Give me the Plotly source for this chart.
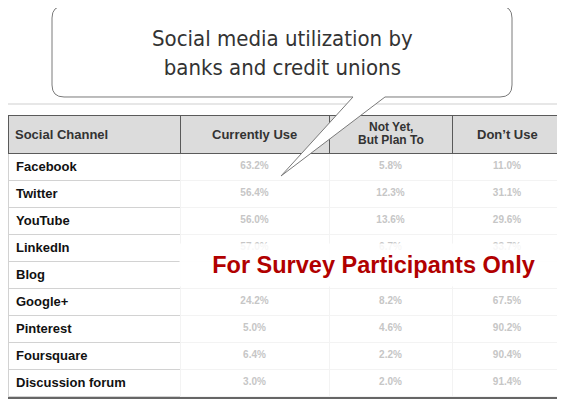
import plotly.graph_objects as go

# table contents (values are blurred in the source, so these are estimates;
# the Blog row is hidden behind the overlay text and left empty)
channels = ["Facebook", "Twitter", "YouTube", "LinkedIn", "Blog", "Google+",
            "Pinterest", "Foursquare", "Discussion forum"]
currently_use = [63.2, 56.4, 56.0, 57.0, None, 24.2, 5.0, 6.4, 3.0]
plan_to = [5.8, 12.3, 13.6, 6.7, None, 8.2, 4.6, 2.2, 2.0]
dont_use = [11.0, 31.1, 29.6, 33.7, None, 67.5, 90.2, 90.4, 91.4]
headers = ["Social Channel", "Currently Use", "Not Yet,", "But Plan To", "Don\u2019t Use"]

W, H = 565, 407
OFF = 8  # the page body adds an 8px margin, so place things relative to the screen
col_widths = [172, 149, 123, 110]


def px(x):
    return (x - OFF) / W


def py(y):
    return 1 - (y - OFF) / H


def pct(vals):
    return ["" if v is None else f"{v:.1f}%" for v in vals]


fig = go.Figure()

# nbsp keeps plotly from treating the labels as wrappable (which grows the rows)
labels = [c.replace(" ", "\u00a0") for c in channels]

fig.add_trace(go.Table(
    domain=dict(x=[0, px(562)], y=[0.0, py(115)]),
    columnwidth=col_widths,
    header=dict(
        values=["", "", "", ""],
        fill_color="#dcdcdc",
        line=dict(color="#5a5a5a", width=1),
        height=38,
    ),
    cells=dict(
        values=[labels, pct(currently_use), pct(plan_to), pct(dont_use)],
        fill_color="white",
        line=dict(color=["#d2d2d2", "#f3f3f3", "#f3f3f3", "#f3f3f3"], width=1),
        align=["left", "center", "center", "center"],
        font=dict(family="Liberation Sans, Arial", size=[13, 10, 10, 10], weight="bold",
                  color=["#111111", "#c6c6c6", "#c6c6c6", "#c6c6c6"]),
        height=27,
    ),
))

# header labels, centred between the column edges
edges = [8]
for w in col_widths:
    edges.append(edges[-1] + w)
hfont = dict(family="Liberation Sans, Arial", size=13, color="#333333", weight="bold")
sfont = dict(family="Liberation Sans, Arial", size=12, color="#333333", weight="bold")
fig.add_annotation(x=px(edges[0] + 5), y=py(134), text=headers[0], font=hfont)
fig.add_annotation(x=px((edges[1] + edges[2]) / 2), y=py(134), text=headers[1], font=hfont)
fig.add_annotation(x=px((edges[2] + edges[3]) / 2), y=py(127), text=headers[2], font=sfont)
fig.add_annotation(x=px((edges[2] + edges[3]) / 2), y=py(140), text=headers[3], font=sfont)
fig.add_annotation(x=px((edges[3] + edges[4]) / 2), y=py(134), text=headers[4], font=hfont)

# outer frame of the table
frame = dict(type="line", xref="paper", yref="paper")
fig.add_shape(frame, x0=0, x1=1, y0=py(104), y1=py(104), line=dict(color="#cfcfcf", width=1))
fig.add_shape(frame, x0=px(563), x1=px(563), y0=py(104), y1=py(398), line=dict(color="#777777", width=1.5))
fig.add_shape(frame, x0=0, x1=1, y0=py(398), y1=py(398), line=dict(color="#333333", width=1.5))

# speech bubble with its tail
pts = [("M", 64, 6), ("L", 500, 6), ("Q", 512, 6), ("", 512, 18), ("L", 512, 85),
       ("Q", 512, 97), ("", 500, 97), ("L", 385, 97), ("L", 281, 176), ("L", 353, 97),
       ("L", 64, 97), ("Q", 52, 97), ("", 52, 85), ("L", 52, 18), ("Q", 52, 6), ("", 64, 6)]
bubble = " ".join(f"{c} {px(x):.5f},{py(y):.5f}" for c, x, y in pts) + " Z"
fig.add_shape(type="path", path=bubble, xref="paper", yref="paper", fillcolor="white",
              layer="above", line=dict(color="#7a7a7a", width=1))

fig.add_annotation(x=px(282), y=py(53), text="Social media utilization by<br>banks and credit unions",
                   font=dict(family="DejaVu Sans Condensed, Roboto Condensed, Roboto", size=22,
                             color="#333333"))

fig.add_annotation(x=px(373), y=py(265), text="For Survey Participants Only", width=385, height=40,
                   bgcolor="rgba(255,255,255,0.85)",
                   font=dict(family="Liberation Sans, Arial", size=23.5, color="#b10000",
                             weight="bold"))

fig.update_annotations(xref="paper", yref="paper", showarrow=False,
                       xanchor="center", yanchor="middle")
fig.layout.annotations[0].xanchor = "left"
fig.update_layout(width=W, height=H, margin=dict(l=0, r=0, t=0, b=0),
                  paper_bgcolor="white", plot_bgcolor="white", showlegend=False)

fig.write_html("out.html")
